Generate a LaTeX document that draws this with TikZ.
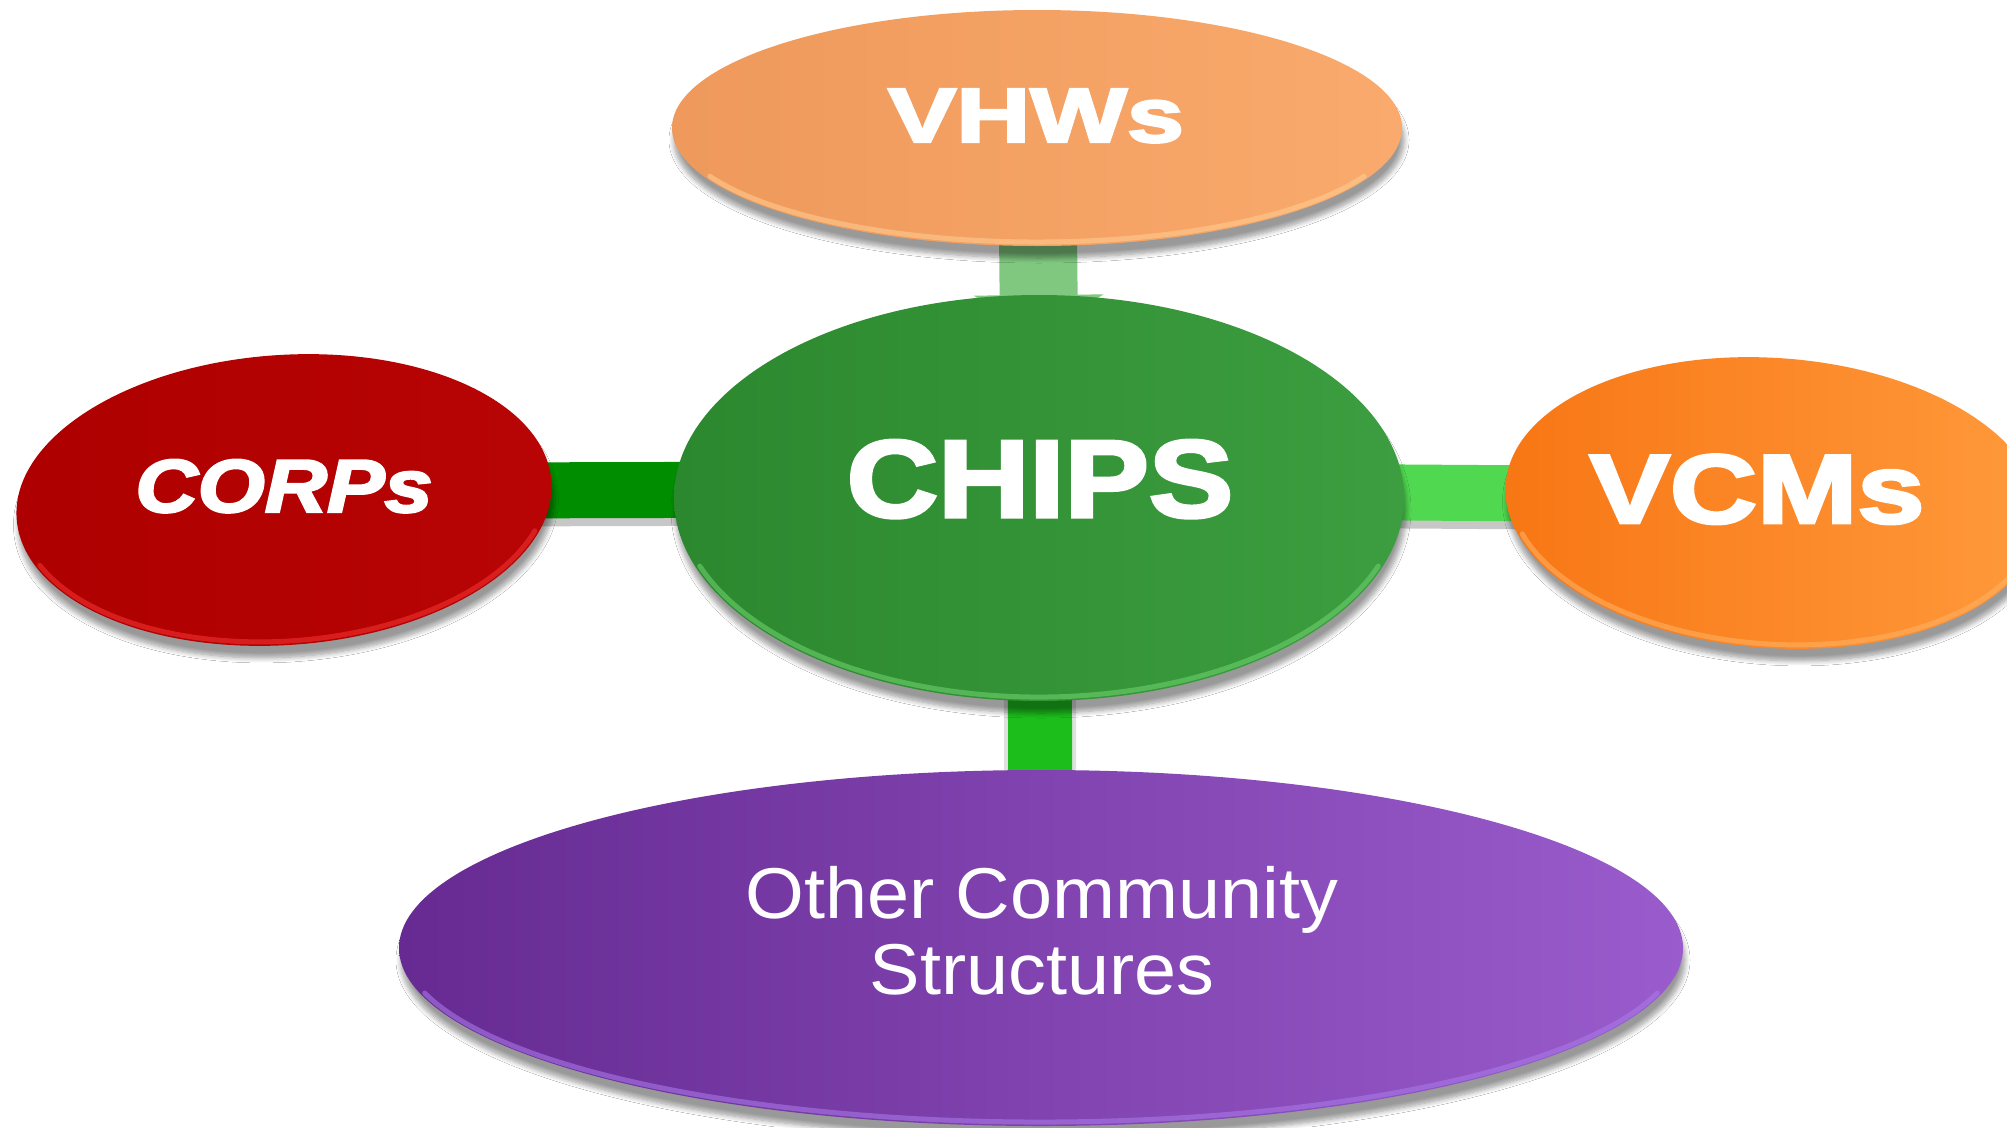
\documentclass[tikz,border=0pt]{standalone}
\usepackage{fontspec}
\setmainfont{Liberation Sans}
\newfontfamily\heavyfont[BoldFeatures={FakeBold=3},BoldItalicFeatures={FakeBold=3}]{Liberation Sans}
\usepackage{graphicx}
\usetikzlibrary{shapes.geometric,shadows.blur,arrows.meta}
\pgfdeclarelayer{background}
\pgfsetlayers{background,main}

% disc colours (left / right of the gradient, bevel rim)
\definecolor{vhwL}{HTML}{EF995C}
\definecolor{vhwR}{HTML}{F9AA6C}
\definecolor{vhwRim}{HTML}{FFCB8E}
\definecolor{chipL}{HTML}{2C882E}
\definecolor{chipR}{HTML}{3C9E40}
\definecolor{chipRim}{HTML}{6CD06C}
\definecolor{corpL}{HTML}{AE0000}
\definecolor{corpR}{HTML}{B80404}
\definecolor{corpRim}{HTML}{F23030}
\definecolor{vcmL}{HTML}{F87614}
\definecolor{vcmR}{HTML}{FF9A3C}
\definecolor{vcmRim}{HTML}{FFB060}
\definecolor{othL}{HTML}{662A92}
\definecolor{othR}{HTML}{9A5CCC}
\definecolor{othRim}{HTML}{A878E8}
% connector colours
\definecolor{barT}{HTML}{80C880}
\definecolor{barL}{HTML}{008E00}
\definecolor{barR}{HTML}{50D850}
\definecolor{barB}{HTML}{1CBE1C}

\tikzset{
  disc/.style={ellipse, inner sep=0pt, outer sep=0pt, draw=none,
    blur shadow={shadow xshift=2pt, shadow yshift=-12pt,
      shadow blur radius=5pt, shadow blur steps=8, shadow opacity=40}},
  lbl/.style={text=white, inner sep=0pt, outer sep=0pt, anchor=base},
  bar/.style={line width=#1, line cap=butt},
  barshade/.style={line width=#1, line cap=butt, draw=black, opacity=.22},
  rim/.style={line width=5pt, line cap=round, opacity=.6},
}

\begin{document}
\begin{tikzpicture}[x=1pt, y=-1pt]
  \useasboundingbox (0,0) rectangle (2007,1127);

  % discs
  \node[disc, minimum width=730pt, minimum height=236pt,
        left color=vhwL, right color=vhwR] (vhws) at (1037,128) {};
  \node[disc, minimum width=536pt, minimum height=290pt, rotate=4,
        left color=corpL, right color=corpR] (corps) at (284,500) {};
  \node[disc, minimum width=536pt, minimum height=290pt, rotate=-4,
        left color=vcmL, right color=vcmR] (vcms) at (1773,503) {};
  \node[disc, minimum width=1284pt, minimum height=356pt,
        left color=othL, right color=othR] (other) at (1041,948) {};
  \node[disc, minimum width=730pt, minimum height=406pt,
        left color=chipL, right color=chipR] (chips) at (1039,498) {};

  % bevel highlights along the lower edges
  \draw[rim, draw=vhwRim] (vhws.center) ++(205:361pt and 114pt)
    arc[start angle=205, end angle=335, x radius=361pt, y radius=114pt];
  \begin{scope}[rotate around={4:(corps.center)}]
    \draw[rim, draw=corpRim] (corps.center) ++(200:264pt and 141pt)
      arc[start angle=200, end angle=340, x radius=264pt, y radius=141pt];
  \end{scope}
  \begin{scope}[rotate around={-4:(vcms.center)}]
    \draw[rim, draw=vcmRim] (vcms.center) ++(200:264pt and 141pt)
      arc[start angle=200, end angle=340, x radius=264pt, y radius=141pt];
  \end{scope}
  \draw[rim, draw=othRim] (other.center) ++(195:638pt and 174pt)
    arc[start angle=195, end angle=345, x radius=638pt, y radius=174pt];
  \draw[rim, draw=chipRim] (chips.center) ++(200:361pt and 199pt)
    arc[start angle=200, end angle=340, x radius=361pt, y radius=199pt];

  % labels
  \node[lbl, font=\fontsize{77}{77}\selectfont\heavyfont\bfseries] (vhws-t)
    at (1036,142) {\scalebox{1.33}[1]{VHWs}};
  \node[lbl, font=\fontsize{110}{110}\selectfont\heavyfont\bfseries] (chips-t)
    at (1040,517) {\scalebox{1.15}[1]{CHIPS}};
  \node[lbl, font=\fontsize{75}{75}\selectfont\heavyfont\bfseries\itshape] (corps-t)
    at (284,512) {\scalebox{1.15}[1]{CORPs}};
  \node[lbl, font=\fontsize{98}{98}\selectfont\heavyfont\bfseries] (vcms-t)
    at (1757,523) {\scalebox{1.23}[1]{VCMs}};
  \node[text=white, inner sep=0pt, outer sep=0pt, anchor=north, align=center,
        font=\fontsize{72}{76}\selectfont] (other-t)
    at (1042,866) {\scalebox{1.05}[1]{Other Community}\\\scalebox{1.05}[1]{Structures}};

  % white ground and connectors behind the discs
  \begin{pgfonlayer}{background}
    \fill[white] (0,0) rectangle (2007,1127);
    \draw[barshade=56pt] ([yshift=1pt]corps.center) -- ([yshift=1pt]chips.center);
    \draw[bar=56pt, draw=barL] ([yshift=9pt]corps.center) -- ([yshift=9pt]chips.center);
    \draw[barshade=56pt] ([yshift=0pt]chips.center) -- ([yshift=0pt]vcms.center);
    \draw[bar=56pt, draw=barR] ([yshift=8pt]chips.center) -- ([yshift=8pt]vcms.center);
    \draw[barshade=72pt, opacity=.12] (chips.center) -- (other.center);
    \draw[bar=64pt, draw=barB] (chips.center) -- (other.center);
    \draw[bar=78pt, draw=barT, -{Triangle[width=128pt, length=40pt]}]
      (vhws.center) -- ([yshift=-40pt]chips.north);
  \end{pgfonlayer}
\end{tikzpicture}
\end{document}
